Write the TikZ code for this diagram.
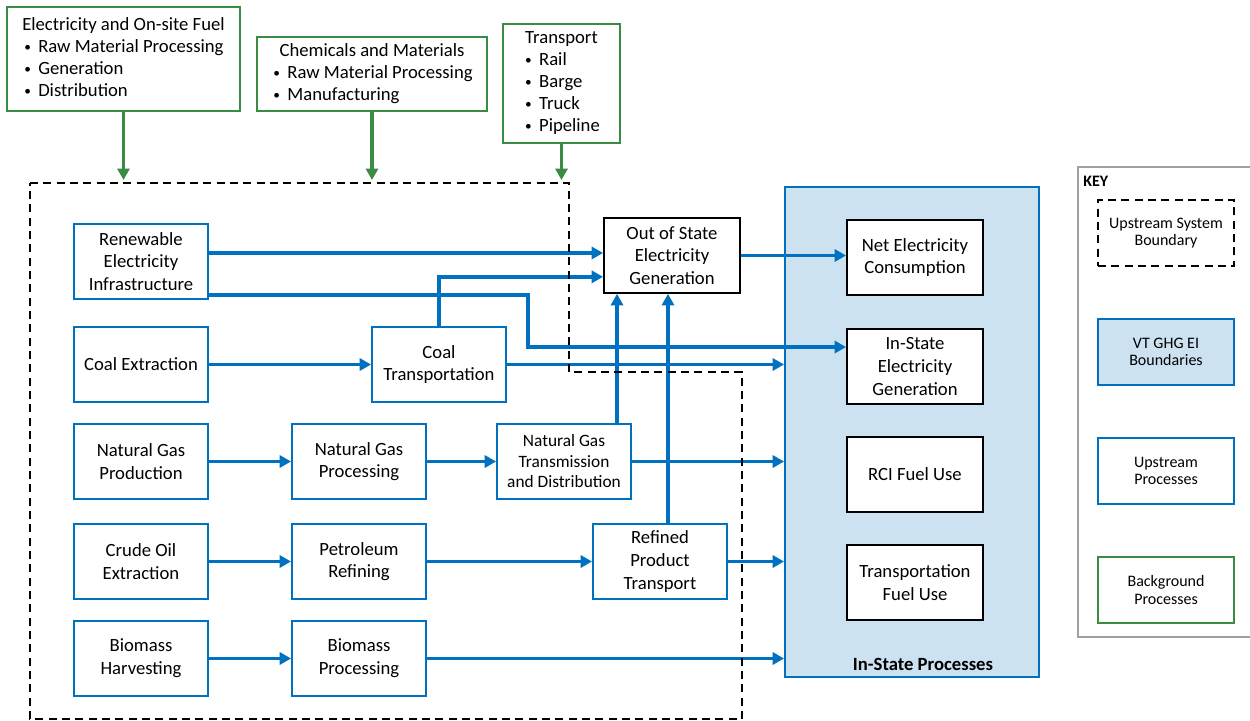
\documentclass[tikz,border=0pt]{standalone}
\usepackage{fontspec}
\setmainfont{Carlito}
\usepackage{tikz}
\usetikzlibrary{arrows.meta,positioning}
\definecolor{flowblue}{HTML}{0070C0}
\definecolor{instfill}{HTML}{CCE2F1}
\definecolor{bggreen}{HTML}{3A8C45}
\definecolor{keygray}{HTML}{A0A0A0}
\newcommand{\blt}{\makebox[12pt][l]{\hspace{1.5pt}\raisebox{1pt}{\fontsize{10}{10}\selectfont\textbullet}}}
\tikzset{upbox/.style={draw=flowblue,fill=white,line width=1.4pt,minimum width=100.5pt,minimum height=56.25pt,inner sep=1pt,align=center,font=\fontsize{14}{17}\selectfont},isbox/.style={draw=black,fill=white,line width=1.4pt,minimum width=102pt,minimum height=56.25pt,inner sep=1pt,align=center,font=\fontsize{14}{17}\selectfont},bgbox/.style={draw=bggreen,fill=white,line width=1.4pt,inner sep=0pt,font=\fontsize{14}{16.5}\selectfont},keybox/.style={line width=1.4pt,minimum width=102pt,minimum height=49.5pt,align=center,font=\fontsize{12}{13}\selectfont},boundary/.style={draw=black,line width=1.3pt,dash pattern=on 6pt off 4pt},flow/.style={draw=flowblue,line width=2.6pt,-{Triangle[length=8.5pt,width=9pt]}},bgflow/.style={draw=bggreen,line width=2.6pt,-{Triangle[length=8.5pt,width=9pt]}}}

\begin{document}
\begin{tikzpicture}[x=.75pt,y=-.75pt]
\useasboundingbox (0,0) rectangle (1250,721);
% background processes
\node[bgbox,minimum width=174.75pt,minimum height=78pt] (elec) at (123.5,59) {\begin{tabular}{@{}l@{}}\multicolumn{1}{@{}c@{}}{Electricity and On-site Fuel}\\ \blt Raw Material Processing\\ \blt Generation\\ \blt Distribution\end{tabular}};
\node[bgbox,minimum width=172.5pt,minimum height=55.5pt] (chem) at (372,74) {\begin{tabular}{@{}l@{}}\multicolumn{1}{@{}c@{}}{Chemicals and Materials}\\ \blt Raw Material Processing\\ \blt Manufacturing\end{tabular}};
\node[bgbox,minimum width=87.75pt,minimum height=89.25pt] (trans) at (561.5,83.5) {\begin{tabular}{@{}l@{}}\multicolumn{1}{@{}c@{}}{Transport}\\ \blt Rail\\ \blt Barge\\ \blt Truck\\ \blt Pipeline\end{tabular}};
\coordinate (bnd) at (0,180);
\foreach \g in {elec,chem,trans} \draw[bgflow] (\g.south) -- (\g.south |- bnd);
% in-state processes
\node[draw=flowblue,fill=instfill,line width=1.4pt,minimum width=190.5pt,minimum height=367.5pt] (instate) at (912,432) {};
\node[font=\bfseries\fontsize{14}{17}\selectfont] (stlabel) at (923,664) {In-State Processes};
\foreach \name/\y/\txt in {nec/257.5/{Net Electricity\\Consumption},iseg/366.5/{In-State\\Electricity\\Generation},rci/474.5/{RCI Fuel Use},tfu/582.5/{Transportation\\Fuel Use}}
  \node[isbox] (\name) at (915,\y) {\txt};
\node[isbox] (oos) at (672,255.5) {Out of State\\Electricity\\Generation};
% upstream processes
\foreach \name/\x/\y/\txt in {ren/141/261.5/{Renewable\\Electricity\\Infrastructure},coalx/141/364.5/{Coal Extraction},coalt/439/364.5/{Coal\\Transportation},ngp/141/461.5/{Natural Gas\\Production},ngproc/359/461.5/{Natural Gas\\Processing},crude/141/561.5/{Crude Oil\\Extraction},refin/359/561.5/{Petroleum\\Refining},rpt/660/561.5/{Refined\\Product\\Transport},bioh/141/658.5/{Biomass\\Harvesting},biop/359/658.5/{Biomass\\Processing}}
  \node[upbox] (\name) at (\x,\y) {\txt};
\node[upbox,font=\fontsize{13}{15.4}\selectfont] (ngtd) at (564,461.5) {Natural Gas\\Transmission\\and Distribution};
% flows
\foreach \a/\b in {coalx/coalt,ngp/ngproc,ngproc/ngtd,crude/refin,refin/rpt,bioh/biop} \draw[flow] (\a.east) -- (\b.west);
\foreach \a in {coalt,ngtd,rpt,biop} \draw[flow] (\a.east) -- (\a.east -| instate.west);
\draw[flow] ([yshift=6.4pt]ren.east) -- ([yshift=6.4pt]ren.east -| oos.west);
\draw[flow] ([yshift=-25pt]ren.east) -- ++(319,0) |- ([yshift=14.6pt]iseg.west);
\draw[flow] (coalt.north) |- ([yshift=-16pt]oos.west);
\draw[flow] ([xshift=39.75pt]ngtd.north) -- ([xshift=39.75pt]ngtd.north |- oos.south);
\draw[flow] ([xshift=6pt]rpt.north) -- ([xshift=6pt]rpt.north |- oos.south);
\draw[flow] (oos.east) -- (oos.east -| nec.west);
% upstream system boundary
\draw[boundary] (30,183) -- (569,183) -- (569,372) -- (742,372) -- (742,719) -- (30,719) -- cycle;
% key
\draw[keygray,line width=.8pt] (1252,167) -- (1078,167) -- (1078,637) -- (1252,637);
\node[font=\bfseries\fontsize{12}{14}\selectfont,anchor=west,inner sep=0pt] (keylbl) at (1083,181) {KEY};
\node[keybox,boundary] (kbnd) at (1166,233) {Upstream System\\Boundary};
\node[keybox,draw=flowblue,fill=instfill] (kvt) at (1166,352) {VT GHG EI\\Boundaries};
\node[keybox,draw=flowblue] (kup) at (1166,471) {Upstream\\Processes};
\node[keybox,draw=bggreen] (kbg) at (1166,590) {Background\\Processes};
\end{tikzpicture}
\end{document}
